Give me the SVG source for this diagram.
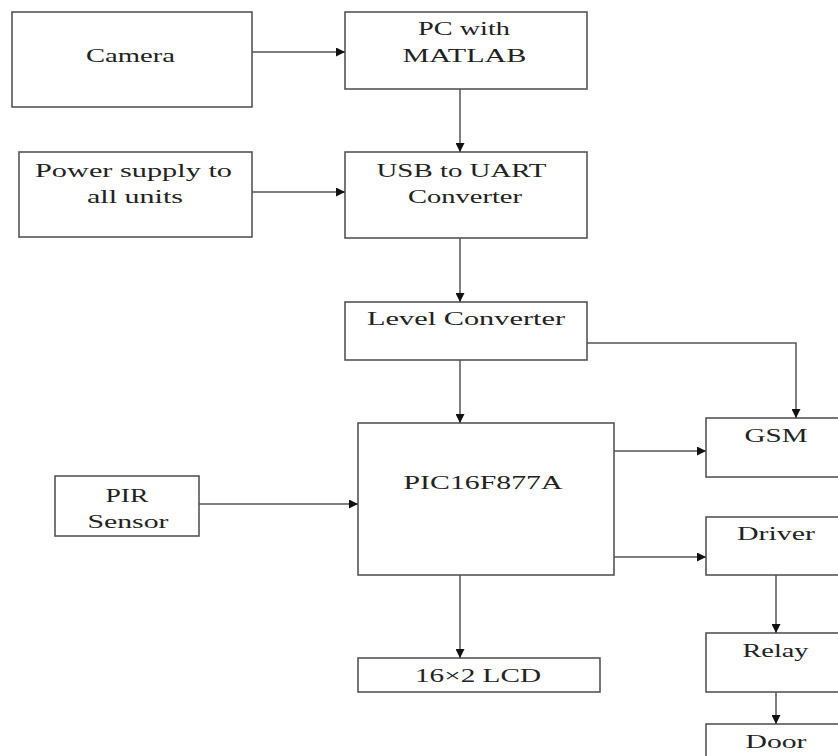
<svg xmlns="http://www.w3.org/2000/svg" width="838" height="756" viewBox="0 0 838 756">
<defs>
<marker id="ah" viewBox="0 0 10 10" refX="10" refY="5" markerWidth="10" markerHeight="9" markerUnits="userSpaceOnUse" orient="auto">
<path d="M0,0 L10,5 L0,10 z" fill="#111"/>
</marker>
<style>
.b{fill:#fff;stroke:#555;stroke-width:1.6}
.t{font-family:"Liberation Serif",serif;font-size:19px;fill:#222;text-anchor:middle}
.c{fill:none;stroke:#555;stroke-width:1.5;marker-end:url(#ah)}
</style>
</defs>
<rect width="838" height="756" fill="#fff"/>
<g id="camera"><rect class="b" x="12" y="12" width="240" height="95"/><text class="t" x="130.5" y="62" textLength="89" lengthAdjust="spacingAndGlyphs">Camera</text></g>
<g id="pc"><rect class="b" x="345" y="12" width="242" height="77"/><text class="t" x="464" y="35" textLength="92" lengthAdjust="spacingAndGlyphs">PC with</text><text class="t" x="464.5" y="62" textLength="124" lengthAdjust="spacingAndGlyphs">MATLAB</text></g>
<g id="power"><rect class="b" x="19" y="152" width="233" height="85"/><text class="t" x="133.5" y="177" textLength="197" lengthAdjust="spacingAndGlyphs">Power supply to</text><text class="t" x="135" y="203" textLength="96" lengthAdjust="spacingAndGlyphs">all units</text></g>
<g id="usb"><rect class="b" x="345" y="152" width="242" height="86"/><text class="t" x="461.5" y="177" textLength="170" lengthAdjust="spacingAndGlyphs">USB to UART</text><text class="t" x="465" y="203" textLength="114" lengthAdjust="spacingAndGlyphs">Converter</text></g>
<g id="level"><rect class="b" x="345" y="302" width="242" height="58"/><text class="t" x="466" y="325" textLength="198" lengthAdjust="spacingAndGlyphs">Level Converter</text></g>
<g id="pic"><rect class="b" x="358" y="423" width="256" height="152"/><text class="t" x="483" y="489" textLength="159" lengthAdjust="spacingAndGlyphs">PIC16F877A</text></g>
<g id="pir"><rect class="b" x="55" y="476" width="144" height="60"/><text class="t" x="127" y="502" textLength="43" lengthAdjust="spacingAndGlyphs">PIR</text><text class="t" x="128" y="528" textLength="81" lengthAdjust="spacingAndGlyphs">Sensor</text></g>
<g id="gsm"><rect class="b" x="706" y="418" width="150" height="59"/><text class="t" x="776" y="442" textLength="63" lengthAdjust="spacingAndGlyphs">GSM</text></g>
<g id="driver"><rect class="b" x="706" y="517" width="150" height="58"/><text class="t" x="776" y="540" textLength="78" lengthAdjust="spacingAndGlyphs">Driver</text></g>
<g id="relay"><rect class="b" x="706" y="633" width="150" height="59"/><text class="t" x="775.5" y="657" textLength="66" lengthAdjust="spacingAndGlyphs">Relay</text></g>
<g id="door"><rect class="b" x="706" y="724" width="150" height="45"/><text class="t" x="776" y="748" textLength="61" lengthAdjust="spacingAndGlyphs">Door</text></g>
<g id="lcd"><rect class="b" x="358" y="658" width="242" height="34"/><text class="t" x="478" y="682" textLength="126" lengthAdjust="spacingAndGlyphs">16×2 LCD</text></g>
<g id="connectors">
<path class="c" d="M252,52 H345"/>
<path class="c" d="M460,89 V152"/>
<path class="c" d="M252,192 H345"/>
<path class="c" d="M460,238 V302"/>
<path class="c" d="M460,360 V423"/>
<path class="c" d="M587,343 H796 V418"/>
<path class="c" d="M614,451 H706"/>
<path class="c" d="M199,504 H358"/>
<path class="c" d="M614,557 H706"/>
<path class="c" d="M460,575 V658"/>
<path class="c" d="M776,575 V633"/>
<path class="c" d="M776,692 V724"/>
</g>
</svg>
